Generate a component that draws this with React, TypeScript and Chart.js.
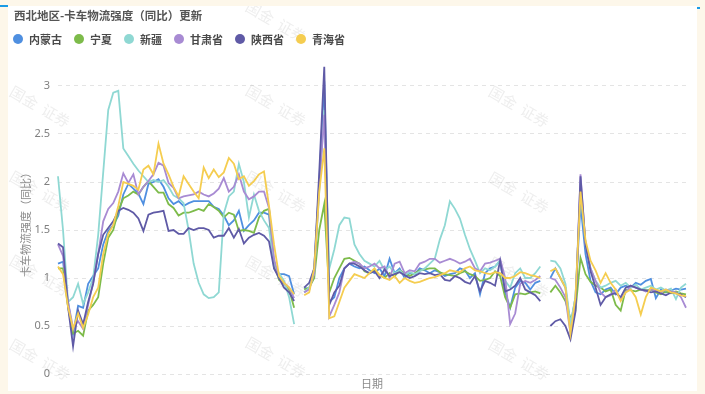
import React, { useEffect, useRef } from 'react';
import { Chart, registerables } from 'chart.js';

Chart.register(...registerables);

// ---- data (three segments separated by gaps) ----
const neimengguA = [1.15, 1.17, 0.75, 0.42, 0.71, 0.69, 0.94, 1.02, 1.1, 1.35,
  1.49, 1.55, 1.65, 1.87, 1.98, 1.93, 1.88, 1.77, 1.98, 2.0,
  2.03, 1.95, 1.83, 1.77, 1.8, 1.75, 1.78, 1.8, 1.8, 1.8,
  1.8, 1.74, 1.72, 1.65, 1.55, 1.6, 1.7, 1.49, 1.55, 1.6,
  1.68, 1.68, 1.66, 1.1, 1.04, 1.04, 1.02, 0.83];
const neimengguB = [0.9, 0.88, 1.1, 2.0, 3.05, 0.75, 0.8, 1.0, 1.1, 1.15,
  1.12, 1.1, 1.12, 1.08, 1.05, 1.1, 1.02, 1.2, 1.05, 1.1,
  1.0, 1.05, 1.04, 1.1, 1.08, 1.05, 1.08, 1.06, 1.02, 1.04,
  1.05, 1.1, 1.08, 1.0, 1.05, 0.83, 1.05, 1.1, 1.12, 1.18,
  0.85, 0.69, 0.9, 0.97, 0.95, 0.88, 0.95, 0.97];
const neimengguC = [1.0, 1.1, 1.0, 0.9, 0.5, 0.8, 1.77, 1.25, 0.97, 0.85,
  0.83, 0.88, 0.9, 0.83, 0.9, 0.92, 0.9, 0.95, 0.93, 0.97,
  0.99, 0.79, 0.88, 0.85, 0.87, 0.89, 0.88, 0.89];

const ningxiaA = [1.1, 1.1, 0.7, 0.42, 0.45, 0.4, 0.66, 0.72, 0.8, 1.15,
  1.42, 1.5, 1.7, 1.83, 1.86, 1.9, 1.87, 1.95, 2.01, 1.95,
  1.89, 1.89, 1.77, 1.73, 1.65, 1.68, 1.68, 1.7, 1.72, 1.7,
  1.77, 1.74, 1.7, 1.63, 1.68, 1.66, 1.49, 1.5, 1.49, 1.47,
  1.63, 1.7, 1.72, 1.15, 0.98, 0.94, 0.88, 0.69];
const ningxiaB = [0.88, 0.9, 1.0, 1.5, 1.77, 0.85, 1.0, 1.1, 1.2, 1.21,
  1.18, 1.15, 1.07, 1.05, 1.08, 1.03, 1.0, 1.05, 1.02, 1.08,
  1.05, 1.02, 1.05, 1.08, 1.09, 1.1, 1.1, 1.06, 1.04, 1.03,
  1.02, 1.05, 1.07, 1.04, 1.02, 0.97, 0.98, 1.0, 1.07, 1.02,
  0.8, 0.69, 0.83, 0.84, 0.83, 0.85, 0.86, 0.84];
const ningxiaC = [0.85, 0.92, 0.85, 0.76, 0.58, 0.66, 1.21, 1.04, 0.96, 0.92,
  0.9, 0.86, 0.88, 0.72, 0.66, 0.88, 0.87, 0.86, 0.88, 0.87,
  0.88, 0.85, 0.83, 0.86, 0.84, 0.86, 0.84, 0.83];

const xinjiangA = [2.06, 1.5, 0.75, 0.8, 0.94, 0.73, 0.85, 1.0, 1.45, 2.1,
  2.75, 2.93, 2.95, 2.35, 2.27, 2.19, 2.12, 2.06, 2.0, 2.02,
  2.0, 2.02, 1.95, 1.86, 1.83, 1.78, 1.5, 1.15, 0.95, 0.83,
  0.79, 0.8, 0.85, 1.67, 1.85, 1.9, 2.19, 2.0, 1.63, 1.87,
  1.7, 1.6, 1.52, 1.14, 1.05, 0.97, 0.8, 0.52];
const xinjiangB = [0.85, 0.9, 1.05, 1.9, 2.75, 1.1, 1.3, 1.55, 1.63, 1.62,
  1.35, 1.25, 1.18, 1.15, 1.12, 1.18, 1.08, 1.12, 1.05, 1.08,
  1.03, 1.06, 1.04, 1.07, 1.1, 1.15, 1.2, 1.4, 1.55, 1.8,
  1.72, 1.62, 1.45, 1.3, 1.18, 1.05, 1.1, 1.08, 1.12, 1.18,
  0.97, 0.9, 1.05, 1.1, 1.0, 1.0, 1.05, 1.12];
const xinjiangC = [1.18, 1.17, 1.1, 0.94, 0.52, 0.8, 1.94, 1.35, 1.1, 0.97,
  0.9, 0.92, 0.95, 0.97, 0.92, 0.95, 0.9, 0.93, 0.88, 0.9,
  0.92, 0.88, 0.9, 0.87, 0.89, 0.78, 0.9, 0.94];

const gansuA = [1.35, 1.23, 0.75, 0.48, 0.55, 0.47, 0.72, 0.95, 1.25, 1.59,
  1.72, 1.78, 1.9, 2.09, 1.99, 2.08, 1.87, 1.95, 2.01, 2.08,
  2.2, 2.17, 1.99, 1.94, 1.83, 1.85, 1.86, 1.87, 1.9, 1.87,
  1.85, 1.88, 1.93, 2.04, 1.9, 1.95, 2.08, 1.9, 1.82, 1.85,
  1.9, 1.9, 1.73, 1.2, 1.0, 0.95, 0.9, 0.79];
const gansuB = [0.85, 0.88, 1.05, 1.95, 2.7, 0.6, 0.72, 0.85, 1.1, 1.15,
  1.17, 1.15, 1.1, 1.12, 1.15, 1.1, 1.12, 1.0, 1.15, 1.17,
  1.05, 1.08, 1.07, 1.15, 1.17, 1.2, 1.2, 1.16, 1.18, 1.2,
  1.18, 1.15, 1.17, 1.2, 1.1, 1.07, 1.15, 1.16, 1.18, 1.2,
  1.0, 0.52, 0.63, 0.94, 0.97, 0.95, 0.98, 1.02];
const gansuC = [1.0, 0.98, 0.9, 0.8, 0.42, 0.7, 2.08, 1.35, 1.1, 0.97,
  0.85, 0.8, 0.82, 0.88, 0.78, 0.85, 0.92, 0.9, 0.88, 0.86,
  0.88, 0.87, 0.85, 0.88, 0.86, 0.85, 0.8, 0.69];

const shaanxiA = [1.36, 1.32, 0.7, 0.29, 0.66, 0.52, 0.75, 0.94, 1.25, 1.45,
  1.52, 1.59, 1.7, 1.73, 1.71, 1.68, 1.62, 1.49, 1.66, 1.68,
  1.69, 1.7, 1.49, 1.5, 1.46, 1.46, 1.52, 1.5, 1.52, 1.52,
  1.5, 1.42, 1.44, 1.44, 1.52, 1.42, 1.51, 1.36, 1.42, 1.45,
  1.47, 1.44, 1.38, 1.1, 1.0, 0.9, 0.85, 0.76];
const shaanxiB = [0.9, 0.95, 1.1, 2.1, 3.2, 0.72, 0.85, 0.92, 1.1, 1.15,
  1.15, 1.12, 1.08, 1.05, 1.07, 1.0, 1.09, 1.02, 1.04, 1.06,
  1.03, 1.0, 1.02, 1.05, 1.04, 1.05, 1.03, 1.04, 0.98, 0.97,
  1.02, 1.0, 0.96, 0.94, 1.02, 0.86, 0.97, 0.95, 0.92, 1.18,
  0.86, 0.88, 0.92, 1.0, 0.88, 0.85, 0.82, 0.76];
const shaanxiC = [0.5, 0.55, 0.57, 0.5, 0.36, 0.65, 2.06, 1.35, 1.07, 0.9,
  0.72, 0.8, 0.83, 0.84, 0.8, 0.9, 0.92, 0.9, 0.88, 0.87,
  0.85, 0.86, 0.84, 0.82, 0.85, 0.84, 0.83, 0.8];

const qinghaiA = [1.12, 1.04, 0.7, 0.47, 0.63, 0.48, 0.62, 0.8, 0.9, 1.25,
  1.46, 1.55, 1.75, 2.0, 1.98, 1.96, 1.92, 2.13, 2.17, 2.08,
  2.4, 2.19, 2.08, 1.95, 1.85, 2.06, 1.98, 1.9, 1.83, 2.15,
  2.04, 2.13, 2.05, 2.1, 2.25, 2.19, 2.03, 2.06, 1.96, 2.01,
  2.08, 2.11, 1.75, 1.35, 1.02, 0.95, 0.9, 0.83];
const qinghaiB = [0.82, 0.85, 1.1, 1.9, 2.35, 0.58, 0.6, 0.75, 0.9, 0.97,
  1.04, 1.02, 1.0, 1.05, 1.1, 1.03, 1.0, 0.98, 1.02, 0.95,
  1.0, 0.97, 0.95, 0.96, 0.98, 1.0, 1.01, 1.03, 1.05, 1.08,
  1.07, 1.06, 1.1, 1.12, 1.08, 1.07, 1.05, 1.04, 1.06, 1.05,
  1.0, 1.0, 1.02, 1.06, 1.05, 1.03, 1.02, 1.0];
const qinghaiC = [1.07, 1.1, 1.0, 0.9, 0.42, 0.8, 1.9, 1.39, 1.18, 1.08,
  0.95, 1.05, 0.95, 0.88, 0.76, 0.85, 0.88, 0.8, 0.62, 0.8,
  0.9, 0.88, 0.86, 0.88, 0.85, 0.84, 0.82, 0.81];

const join = (a: number[], b: number[], c: number[]) => [...a, null, ...b, null, ...c];

const seriesNames = ['内蒙古', '宁夏', '新疆', '甘肃省', '陕西省', '青海省'];
const seriesColors = ['#4f8fe0', '#7dbb4a', '#8fd8d3', '#a88bd3', '#5f5aa6', '#f5cd50'];
const seriesValues = [
  join(neimengguA, neimengguB, neimengguC),
  join(ningxiaA, ningxiaB, ningxiaC),
  join(xinjiangA, xinjiangB, xinjiangC),
  join(gansuA, gansuB, gansuC),
  join(shaanxiA, shaanxiB, shaanxiC),
  join(qinghaiA, qinghaiB, qinghaiC),
];
const dayLabels = seriesValues[0].map((_, i) => `第${i + 1}天`);

const titleText = '西北地区-卡车物流强度（同比）更新';
const yTitle = '卡车物流强度（同比）';
const xTitle = '日期';
const yTicks = [0, 0.5, 1, 1.5, 2, 2.5, 3];

const CJK = '"Noto Sans CJK SC", "Noto Sans", sans-serif';

// watermark anchor positions (page coordinates)
const WM = [
  [11, 90], [11, 175], [11, 259], [11, 343],
  [247, 5], [247, 89], [247, 175], [247, 260], [247, 341],
  [490, 90], [490, 176], [490, 261], [490, 343],
];

const watermarkPlugin = {
  id: 'watermark',
  beforeDatasetsDraw(chart: any) {
    const ctx = chart.ctx;
    ctx.save();
    ctx.font = `15px ${CJK}`;
    ctx.fillStyle = 'rgba(150,150,150,0.16)';
    ctx.textBaseline = 'middle';
    for (const [x, y] of WM) {
      ctx.save();
      ctx.translate(x - 8, y - 6);
      ctx.rotate((30 * Math.PI) / 180);
      ctx.fillText('国金  证券', 0, 0);
      ctx.restore();
    }
    ctx.restore();
  },
};

export default function App() {
  const ref = useRef<HTMLCanvasElement>(null);
  useEffect(() => {
    const chart = new Chart(ref.current as HTMLCanvasElement, {
      type: 'line',
      data: {
        labels: dayLabels,
        datasets: seriesNames.map((name, i) => ({
          label: name,
          data: seriesValues[i],
          borderColor: seriesColors[i],
          backgroundColor: seriesColors[i],
          borderWidth: 1.8,
          pointRadius: 0,
          tension: 0,
          spanGaps: false,
          order: seriesNames.length - i,
        })),
      },
      options: {
        responsive: false,
        animation: false,
        layout: { padding: { left: 8, right: 11, top: 56, bottom: 17 } },
        plugins: {
          legend: { display: false },
          title: { display: false },
          tooltip: { enabled: false },
        },
        scales: {
          x: {
            display: false,
          },
          y: {
            min: 0,
            max: 3.25,
            afterBuildTicks: (scale: any) => {
              scale.ticks = yTicks.map((v) => ({ value: v }));
            },
            afterFit: (scale: any) => {
              scale.width = 42;
            },
            ticks: {
              color: '#808080',
              font: { size: 11, family: '"Noto Sans", sans-serif' },
              padding: 8,
              callback: (v: any) => String(v),
            },
            grid: { color: '#e4e4e4', drawTicks: false, lineWidth: 1 },
            border: { display: false, dash: [4, 4] },
            title: { display: false },
          },
        },
      },
      plugins: [watermarkPlugin],
    });
    return () => chart.destroy();
  }, []);

  const legendItem = (name: string, i: number) => (
    <div key={name} style={{ display: 'flex', alignItems: 'center', marginRight: 12 }}>
      <span style={{ width: 10, height: 10, borderRadius: 5, background: seriesColors[i], marginRight: 6, display: 'inline-block' }} />
      <span>{name}</span>
    </div>
  );

  return (
    <div style={{ position: 'fixed', left: 0, top: 0, width: 705, height: 394, background: '#fdf7ea', overflow: 'hidden', fontFamily: CJK }}>
      <div style={{ position: 'absolute', left: 0, top: 5, width: 8, height: 2, background: '#1a9be6' }} />
      <div style={{ position: 'absolute', left: 8, top: 6, width: 689, height: 385, background: '#ffffff' }}>
        <canvas ref={ref} width={689} height={385} style={{ display: 'block', width: 689, height: 385 }} />
      </div>
      <div style={{ position: 'absolute', left: 697, top: 7, width: 3, height: 2, background: '#1a9be6' }} />
      <div style={{ position: 'absolute', left: 14, top: 7, fontSize: 11.5, fontWeight: 700, color: '#555', lineHeight: '16px', whiteSpace: 'nowrap' }}>
        {titleText}
      </div>
      <div style={{ position: 'absolute', left: 13, top: 31, height: 16, display: 'flex', alignItems: 'center', fontSize: 11, fontWeight: 700, color: '#4a4a4a', whiteSpace: 'nowrap' }}>
        {seriesNames.map(legendItem)}
      </div>
      <div style={{ position: 'absolute', left: 25 - 60, top: 222 - 8, width: 120, height: 16, lineHeight: '16px', textAlign: 'center', fontSize: 11, color: '#8a8a8a', transform: 'rotate(-90deg)', whiteSpace: 'nowrap' }}>
        {yTitle}
      </div>
      <div style={{ position: 'absolute', left: 352, width: 40, top: 375, textAlign: 'center', fontSize: 11, color: '#8a8a8a', lineHeight: '16px' }}>
        {xTitle}
      </div>
    </div>
  );
}
